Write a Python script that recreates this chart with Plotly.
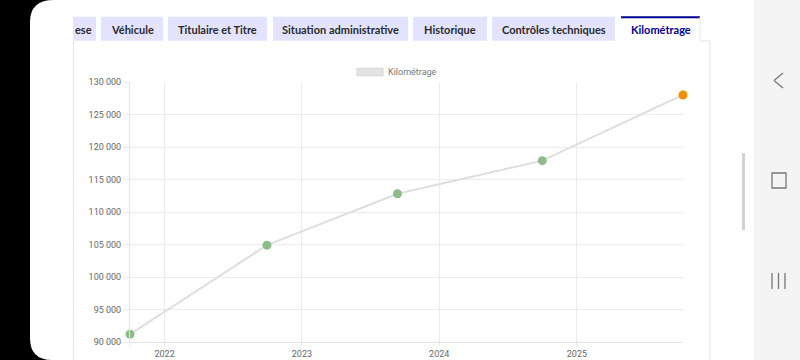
import plotly.graph_objects as go

# ---- data ----
dates = ["2021-10-01", "2022-09-30", "2023-09-12", "2024-10-01", "2025-10-10"]
km = [91200, 104900, 112800, 117900, 128000]
series_name = "Kilométrage"
y_ticks = [90000, 95000, 100000, 105000, 110000, 115000, 120000, 125000, 130000]
tab_labels = ["ese", "Véhicule", "Titulaire et Titre", "Situation administrative",
              "Historique", "Contrôles techniques", "Kilométrage"]

# ---- layout geometry (pixels) ----
W, H = 800, 360
L, R, T, B = 130, 117, 82, 18
PW, PH = W - L - R, H - T - B


def fx(p):
    return (p - L) / PW


def fy(p):
    return (H - B - p) / PH


marker_colors = ["#8dbb8a"] * (len(km) - 1) + ["#f39000"]

fig = go.Figure()
fig.add_trace(go.Scatter(
    x=dates, y=km, mode="lines+markers", name=series_name,
    line=dict(color="#dedede", width=2),
    marker=dict(size=9, color=marker_colors, line=dict(width=0)),
    cliponaxis=False, showlegend=False,
))

shapes = []
annotations = []


def rect(x0, y0, x1, y1, fill, line_color=None, lw=0, layer="above"):
    shapes.append(dict(type="rect", xref="paper", yref="paper",
                       x0=fx(x0), x1=fx(x1), y0=fy(y1), y1=fy(y0),
                       fillcolor=fill, line=dict(color=line_color or fill, width=lw),
                       layer=layer))


def seg(x0, y0, x1, y1, color, lw=1, layer="above"):
    shapes.append(dict(type="line", xref="paper", yref="paper",
                       x0=fx(x0), x1=fx(x1), y0=fy(y0), y1=fy(y1),
                       line=dict(color=color, width=lw), layer=layer))


# tabs
tab_x = [(73, 96), (101, 163), (168, 267), (273, 408), (413, 487), (492, 615), (621, 700)]
for i, (lab, (a, b)) in enumerate(zip(tab_labels, tab_x)):
    active = i == len(tab_labels) - 1
    rect(a, 16.7, b, 40.7, "#ffffff" if active else "#e3e3fd", layer="below")
    if active:
        seg(a, 17.3, b, 17.3, "#000091", 2)
        seg(b, 17, b, 41, "#e6e6e6", 1)
    xc = a if i == 0 else (a + b) / 2
    annotations.append(dict(
        text=lab, xref="paper", yref="paper", x=fx(xc), y=fy(29),
        xanchor="left" if i == 0 else "center", yanchor="middle", showarrow=False,
        font=dict(family="Lato", size=11, weight=700,
                  color="#000091" if active else "#2a2a2a")))

# panel borders
seg(73.5, 41, 73.5, 360, "#e3e3e3", 1)
seg(710, 41, 710, 360, "#e3e3e3", 1)
seg(700, 41, 710, 41, "#e3e3e3", 1)

# x tick marks extending below the axis (chart.js style)
seg(130, 342, 130, 348, "#ebebeb", 1, layer="below")

# legend (chart.js style box)
rect(357, 68.3, 383, 75.7, "#e4e4e4", "#d4d4d4", 1)
annotations.append(dict(text=series_name, xref="paper", yref="paper",
                        x=fx(386), y=fy(72), xanchor="left", yanchor="middle",
                        showarrow=False, font=dict(family="Roboto", size=9, color="#777")))

# phone frame: left black bezel with rounded screen corners
def P(x, y):
    return f"{fx(x):.5f},{fy(y):.5f}"

path = (f"M {P(0,0)} L {P(54,0)} Q {P(30,0)} {P(30,22)} L {P(30,338)} "
        f"Q {P(30,360)} {P(52,360)} L {P(0,360)} Z")
shapes.append(dict(type="path", xref="paper", yref="paper", path=path,
                   fillcolor="#000000", line=dict(width=0)))

# right navigation bar
rect(754, 0, 800, 360, "#f4f4f4")
seg(743.5, 153, 743.5, 230, "#d2d2d2", 3)
seg(783, 73, 774, 80.5, "#777777", 1.3)
seg(774, 80.5, 783, 88, "#777777", 1.3)
shapes.append(dict(type="rect", xref="paper", yref="paper",
                   x0=fx(772), x1=fx(786), y0=fy(188), y1=fy(173),
                   line=dict(color="#777777", width=1.3), fillcolor="rgba(0,0,0,0)"))
for xx in (772, 778.5, 785):
    seg(xx, 273, xx, 289, "#777777", 1.3)

fig.update_layout(
    width=W, height=H,
    margin=dict(l=L, r=R, t=T, b=B, autoexpand=False),
    paper_bgcolor="#ffffff", plot_bgcolor="#ffffff",
    separators=", ",
    shapes=shapes, annotations=annotations,
    xaxis=dict(type="date", range=[dates[0], dates[-1]], dtick="M12",
               tick0="2022-01-01", tickformat="%Y", automargin=False,
               showgrid=True, gridcolor="#ebebeb", gridwidth=1,
               ticks="outside", ticklen=3, tickcolor="#ebebeb",
               showline=True, linecolor="#e3e3e3", linewidth=1,
               tickfont=dict(family="Roboto", size=9, color="#666"),
               zeroline=False, fixedrange=True),
    yaxis=dict(range=[90000, 130000], tickvals=y_ticks, tickformat=",d",
               automargin=False,
               showgrid=True, gridcolor="#ebebeb", gridwidth=1,
               ticks="outside", ticklen=6, tickcolor="#ebebeb",
               showline=True, linecolor="#e3e3e3", linewidth=1,
               tickfont=dict(family="Roboto", size=9, color="#666"),
               zeroline=False, fixedrange=True),
    showlegend=False,
)

fig.write_html(
    "out.html",
    config={"displayModeBar": False},
    post_script="document.body.style.margin='0';document.body.style.overflow='hidden';",
)
